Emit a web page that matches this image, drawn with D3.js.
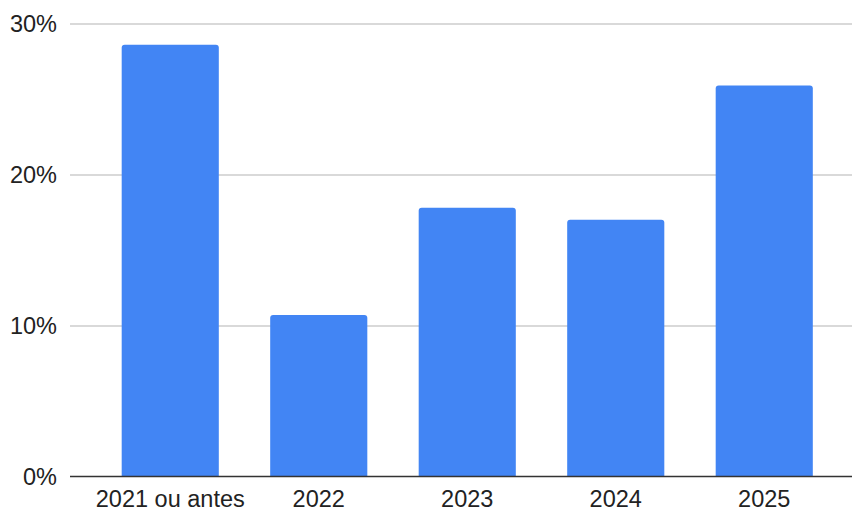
<!DOCTYPE html>
<html><head><meta charset="utf-8">
<script src="https://cdn.jsdelivr.net/npm/d3@7"></script>
<style>html,body{margin:0;padding:0;background:#fff;}svg{display:block;}</style>
</head><body>
<svg id="chart" width="852" height="512"></svg>
<script>
const categories = ["2021 ou antes", "2022", "2023", "2024", "2025"];
const values = [0.286, 0.107, 0.178, 0.170, 0.259];
const yTicks = [0, 0.1, 0.2, 0.3];

const W = 852, H = 512;
const plot = {left: 70, right: 852, top: 23.5, bottom: 476.5};
const svg = d3.select("#chart");

const y = d3.scaleLinear().domain([0, 0.3]).range([plot.bottom, plot.top]);
const x = d3.scaleBand().domain(categories).range([96, 838.5]).paddingInner(0.346).paddingOuter(0.173);

const fontFam = "Arial, 'Liberation Sans', sans-serif";

// gridlines
const yAxis = d3.axisLeft(y).tickValues(yTicks).tickFormat(d3.format(".0%")).tickSize(0).tickPadding(13);
const gy = svg.append("g").attr("transform", `translate(${plot.left},0)`).call(yAxis);
gy.select(".domain").remove();
gy.selectAll("text").attr("font-family", fontFam).attr("font-size", 23.5).attr("fill", "#222");
gy.selectAll(".tick").filter(d => d !== 0).append("line")
  .attr("x1", 0).attr("x2", plot.right - plot.left).attr("stroke", "#cccccc").attr("stroke-width", 1.3);

// bars with rounded top
const r = 3;
svg.append("g").selectAll("path").data(categories).join("path")
  .attr("fill", "#4285f4")
  .attr("d", (c, i) => {
    const x0 = x(c), w = x.bandwidth(), yt = y(values[i]), yb = y(0);
    return `M${x0},${yb}V${yt + r}Q${x0},${yt} ${x0 + r},${yt}H${x0 + w - r}Q${x0 + w},${yt} ${x0 + w},${yt + r}V${yb}Z`;
  });

// x axis
const xAxis = d3.axisBottom(x).tickSize(0).tickPadding(13.5);
const gx = svg.append("g").attr("transform", `translate(0,${plot.bottom})`).call(xAxis);
gx.select(".domain").remove();
gx.selectAll("text").attr("font-family", fontFam).attr("font-size", 23.5).attr("fill", "#222");
svg.append("line").attr("x1", plot.left).attr("x2", plot.right).attr("y1", plot.bottom).attr("y2", plot.bottom)
  .attr("stroke", "#333").attr("stroke-width", 1.5);
</script>
</body></html>
